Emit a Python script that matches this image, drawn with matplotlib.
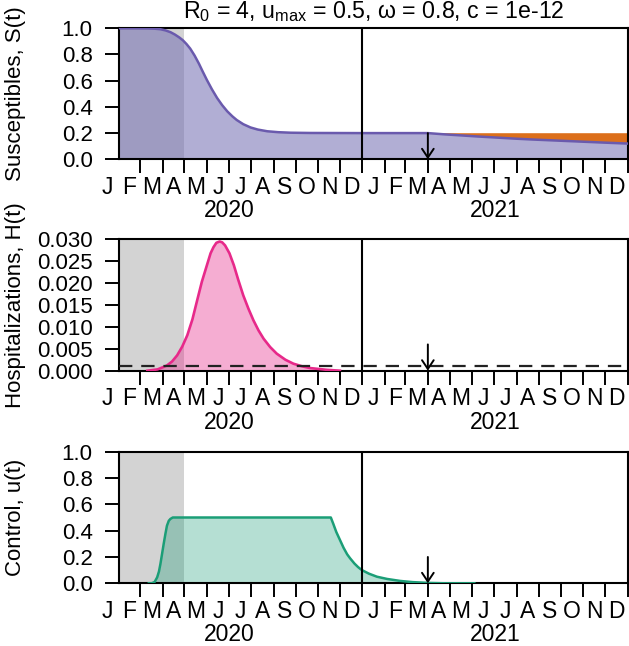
import numpy as np
import matplotlib
matplotlib.use("Agg")
import matplotlib.pyplot as plt
from datetime import date

plt.rcParams['font.family'] = ['Liberation Sans', 'DejaVu Sans']
plt.rcParams['mathtext.fontset'] = 'custom'
plt.rcParams['mathtext.rm'] = 'Liberation Sans'
plt.rcParams['mathtext.it'] = 'Liberation Sans'
plt.rcParams['mathtext.default'] = 'regular'

# x values are days since 2020-01-01
# susceptibles
s_day = [31, 50, 70, 80, 88, 95, 102, 108, 114, 119, 124, 129, 135, 141, 146, 152,
         159, 166, 173, 180, 187, 193, 202, 212, 222, 235, 250, 267, 294, 366, 456,
         480, 500, 525, 550, 575, 600, 625, 650, 675, 700, 731]
s_val = [1.0, 1.0, 0.999, 0.997, 0.993, 0.984, 0.97, 0.952, 0.93, 0.908, 0.879, 0.845,
         0.792, 0.73, 0.672, 0.605, 0.533, 0.468, 0.413, 0.366, 0.328, 0.3, 0.268, 0.243,
         0.227, 0.214, 0.207, 0.203, 0.201, 0.2, 0.2,
         0.19, 0.183, 0.174, 0.166, 0.158, 0.151, 0.145, 0.139, 0.133, 0.127, 0.12]
# susceptibles without vaccination (top of orange band), from the vaccination date on
nv_day = [456, 731]
nv_val = [0.203, 0.203]

# hospitalizations
h_day = [70, 84, 90, 97, 104, 111, 118, 125, 132, 138, 145, 152, 157, 161, 165,
         169.5, 173, 177, 183, 189, 195, 202, 209, 216, 223, 230, 239, 248, 260, 271,
         283, 294, 317, 335]
h_val = [0, 0.0003, 0.0007, 0.0012, 0.0021, 0.0035, 0.0055, 0.0081, 0.0117, 0.0157,
         0.0203, 0.0241, 0.0268, 0.0282, 0.0292, 0.0295, 0.0293, 0.0286, 0.0268, 0.0241,
         0.0208, 0.0172, 0.0142, 0.0115, 0.0092, 0.0073, 0.0054, 0.0039, 0.0025, 0.0016,
         0.001, 0.0006, 0.0002, 0.0]
h_cap = 0.001

# control
u_day = [72, 76, 80, 83.5, 86, 88, 90, 92.5, 95, 97, 99.5, 101.7, 105, 108.6, 115,
         322.5, 326, 330, 335, 340, 345, 349, 355, 360, 365, 375, 386, 400, 418, 435,
         456, 480, 520]
u_val = [0, 0, 0.01, 0.045, 0.09, 0.147, 0.215, 0.30, 0.38, 0.438, 0.475, 0.489, 0.5,
         0.5, 0.5, 0.5, 0.45, 0.39, 0.33, 0.27, 0.22, 0.19, 0.15, 0.123, 0.101, 0.073,
         0.05, 0.033, 0.018, 0.009, 0.003, 0.0, 0.0]

months = list("JFMAMJJASOND")
years = [2020, 2021]
vacc_day = 456      # 2021-04-01
lock_start, lock_end = 31, 121   # shaded period
year_line = 366

def dayof(y, m):
    return (date(y, m, 1) - date(2020, 1, 1)).days

mstarts = [dayof(2020 + i // 12, i % 12 + 1) for i in range(25)]

W, H = 629, 646
fig = plt.figure(figsize=(W / 100, H / 100), dpi=100)
left = 119 / W
width = 508.7 / W
panels = [(28.3, 159.3), (239.3, 370.7), (451.7, 583.3)]
axes = [fig.add_axes([left, 1 - b / H, width, (b - t) / H]) for t, b in panels]

purple, orange, pink, green = '#7570b3', '#d95f02', '#e7298a', '#1b9e77'

def style(ax, ymax, yticks, fmt, ylabel):
    ax.set_xlim(31, 731)
    ax.set_ylim(0, ymax)
    ax.axvspan(lock_start, lock_end, color='#d3d3d3', lw=0, zorder=0)
    ax.axvline(year_line, color='black', lw=1.5, zorder=5)
    ax.set_xticks(mstarts[2:])
    ax.set_xticklabels([])
    ax.set_yticks(yticks)
    ax.set_yticklabels([fmt % v for v in yticks])
    ax.tick_params(axis='both', direction='out', length=10, width=1.4,
                   labelsize=16, pad=9)
    for sp in ax.spines.values():
        sp.set_linewidth(1.5)
    for i in range(24):
        c = (mstarts[i] + mstarts[i + 1]) / 2
        ax.annotate(months[i % 12], xy=(c, 0), xycoords=('data', 'axes fraction'),
                    xytext=(0, -20), textcoords='offset points', ha='center',
                    va='center', fontsize=16.5, annotation_clip=False)
    for k, y in enumerate(years):
        c = (mstarts[12 * k] + mstarts[12 * k + 12]) / 2
        ax.annotate(str(y), xy=(c, 0), xycoords=('data', 'axes fraction'),
                    xytext=(0, -37), textcoords='offset points', ha='center',
                    va='center', fontsize=16.5, annotation_clip=False)
    ax.annotate('', xy=(vacc_day, 0), xytext=(vacc_day, 0.2),
                xycoords=('data', 'axes fraction'),
                arrowprops=dict(arrowstyle='->,head_length=0.45,head_width=0.3',
                                lw=1.4, color='black', shrinkA=0, shrinkB=0,
                                mutation_scale=14), zorder=6)
    ax.set_ylabel(ylabel, fontsize=16, va='center')
    ax.yaxis.set_label_coords(-0.204, 0.5)

ax1, ax2, ax3 = axes
style(ax1, 1.0, np.arange(0, 1.01, 0.2), '%.1f', 'Susceptibles, S(t)')
style(ax2, 0.030, np.arange(0, 0.0301, 0.005), '%.3f', 'Hospitalizations, H(t)')
style(ax3, 1.0, np.arange(0, 1.01, 0.2), '%.1f', 'Control, u(t)')

ax1.fill_between(s_day, 0, s_val, color=purple, alpha=0.56, lw=0, zorder=2)
sd = [d for d in s_day if d >= vacc_day]
sv = [v for d, v in zip(s_day, s_val) if d >= vacc_day]
ax1.fill_between(sd, sv, nv_val[0], color=orange, alpha=0.9, lw=0, zorder=2)
ax1.plot(s_day, s_val, color='#6a5aad', lw=1.8, zorder=3)

ax2.fill_between(h_day, 0, h_val, color=pink, alpha=0.38, lw=0, zorder=2)
ax2.plot(h_day, h_val, color=pink, lw=1.9, zorder=3)
ax2.axhline(h_cap, color='#222222', lw=1.6, ls=(0, (6, 4)), zorder=4)

ax3.fill_between(u_day, 0, u_val, color=green, alpha=0.32, lw=0, zorder=2)
ax3.plot(u_day, u_val, color=green, lw=1.8, zorder=3)

ax1.set_title(r'R$_0$ = 4, u$_{max}$ = 0.5, ω = 0.8, c = 1e-12', fontsize=16.7, pad=7)

fig.savefig('out.png', dpi=100)
